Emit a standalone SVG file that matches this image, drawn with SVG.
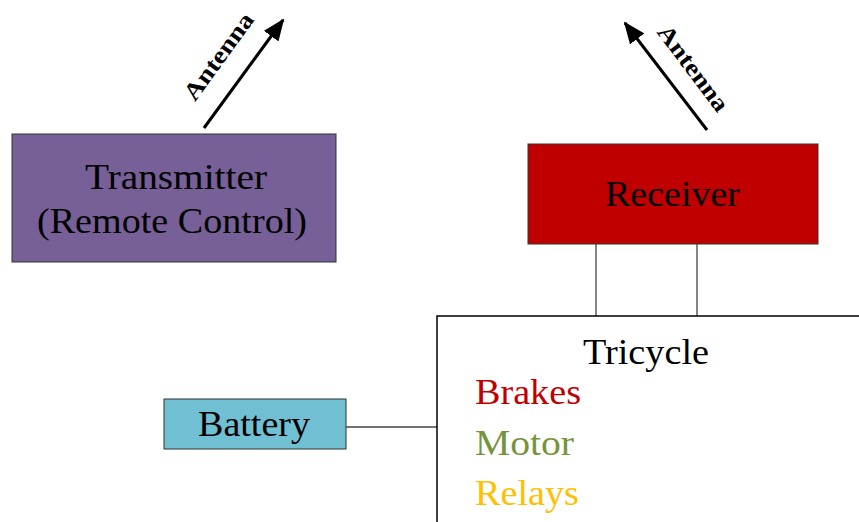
<svg xmlns="http://www.w3.org/2000/svg" width="859" height="522" viewBox="0 0 859 522">
<style>
  .lbl { font-family: "Liberation Serif", "Times New Roman", serif; font-size: 35px; fill: #000; }
  .ant { font-family: "Liberation Serif", "Times New Roman", serif; font-size: 24px; font-weight: bold; fill: #000; }
  .box { stroke: #333; stroke-width: 1; }
  .wire { stroke: #444; stroke-width: 1.3; fill: none; }
  .arrow { stroke: #000; stroke-width: 3; fill: none; }
</style>
<defs>
  <marker id="ah" markerWidth="22" markerHeight="18" refX="20" refY="9" orient="auto" markerUnits="userSpaceOnUse">
    <polygon points="0,0 22,9 0,18" fill="#000"/>
  </marker>
</defs>
<rect width="859" height="522" fill="#fff"/>

<g id="connectors">
  <line class="arrow" x1="204" y1="128" x2="283" y2="20" marker-end="url(#ah)"/>
  <line class="arrow" x1="707" y1="130" x2="625" y2="23" marker-end="url(#ah)"/>
  <line class="wire" x1="596" y1="244" x2="596" y2="316"/>
  <line class="wire" x1="697" y1="244" x2="697" y2="316"/>
  <line class="wire" x1="346" y1="427" x2="437" y2="427" stroke="#000"/>
  <text class="ant" transform="translate(225,61) rotate(-54)" text-anchor="middle" textLength="102" lengthAdjust="spacingAndGlyphs">Antenna</text>
  <text class="ant" transform="translate(687,73) rotate(53)" text-anchor="middle" textLength="102" lengthAdjust="spacingAndGlyphs">Antenna</text>
</g>

<g id="transmitter">
  <rect class="box" x="12" y="134" width="324" height="128" fill="#775f97"/>
  <text class="lbl" x="176" y="189" text-anchor="middle" textLength="182" lengthAdjust="spacingAndGlyphs">Transmitter</text>
  <text class="lbl" x="172" y="233" text-anchor="middle" textLength="270" lengthAdjust="spacingAndGlyphs">(Remote Control)</text>
</g>

<g id="receiver">
  <rect class="box" x="528" y="144" width="290" height="100" fill="#c00000"/>
  <text class="lbl" x="672.5" y="206" text-anchor="middle" textLength="135" lengthAdjust="spacingAndGlyphs">Receiver</text>
</g>

<g id="battery">
  <rect class="box" x="164" y="399" width="182" height="50" fill="#70bfd3"/>
  <text class="lbl" x="254" y="436" text-anchor="middle" textLength="112" lengthAdjust="spacingAndGlyphs">Battery</text>
</g>

<g id="tricycle">
  <rect x="437" y="316" width="440" height="230" fill="#fff" stroke="#000" stroke-width="1.5"/>
  <text class="lbl" x="646" y="364" text-anchor="middle" textLength="126" lengthAdjust="spacingAndGlyphs">Tricycle</text>
  <text class="lbl" x="475" y="404" style="fill:#c00000" textLength="106" lengthAdjust="spacingAndGlyphs">Brakes</text>
  <text class="lbl" x="475" y="455" style="fill:#77933c" textLength="99" lengthAdjust="spacingAndGlyphs">Motor</text>
  <text class="lbl" x="475" y="505" style="fill:#ffc000" textLength="104" lengthAdjust="spacingAndGlyphs">Relays</text>
</g>
</svg>
